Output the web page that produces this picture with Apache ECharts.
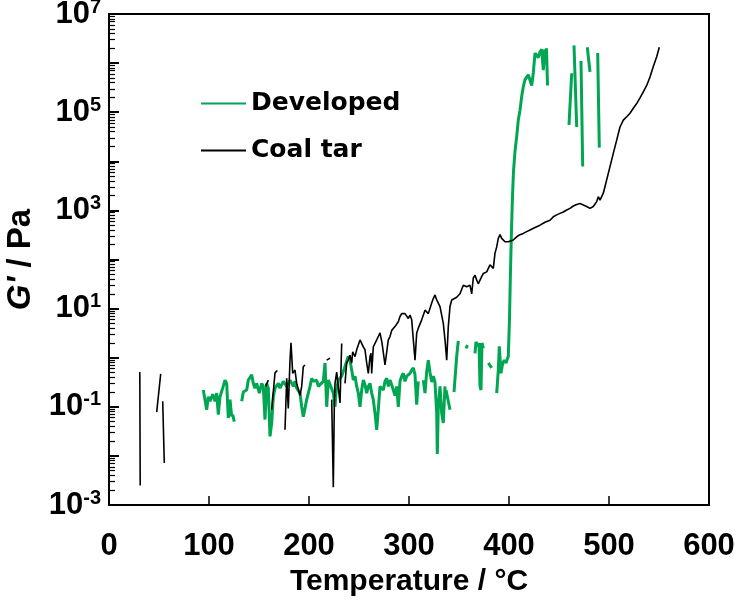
<!DOCTYPE html>
<html><head><meta charset="utf-8">
<script src="https://cdn.jsdelivr.net/npm/echarts@6/dist/echarts.min.js"></script>
<style>html,body{margin:0;padding:0;background:#fff}#c{width:737px;height:601px}</style>
</head><body><div id="c"></div>
<script>
// Temperature (°C) vs G' (Pa); null = gap in the recorded curve
const developed = [
  [94.3,0.22],[97.7,0.087],[99.3,0.16],[101,0.13],[103.7,0.18],[106,0.13],[107.7,0.19],[109.3,0.069],
  [111,0.16],[113.7,0.24],[116,0.35],[117.7,0.30],[119.3,0.059],[121,0.14],[122.7,0.063],[123.2,null],
  [123.7,0.069],[125.3,0.05],[129,null],
  [132.7,0.13],[134.3,0.20],[137.7,0.22],[139.3,0.35],[142.7,0.45],[144.3,0.30],[146,0.24],[147.7,0.30],
  [150.3,0.19],[152.7,0.30],[154.3,0.26],[156,0.055],[157.7,0.30],[159.3,0.24],[161,0.025],[162.7,0.047],
  [164.3,0.16],[166,0.24],[167.7,0.22],[169.3,0.30],[171,0.24],[174.3,0.33],[177.7,0.26],[181,0.35],
  [184.3,0.26],[186,0.33],[187.7,0.24],[191,0.19],[192.7,0.10],[194.3,0.063],[196,0.093],[197.7,0.14],
  [201,0.26],[202.7,0.38],[204.3,0.33],[207.7,0.35],[209.3,0.26],[211,0.24],[214.3,0.33],[216,0.78],
  [217.7,0.10],[219.3,0.35],[221,0.33],[224.3,0.19],[226,0.10],[227,0.19],[229.3,0.35],[232.7,0.42],
  [236,0.66],[239.3,1.07],[241,0.89],[242.7,0.56],[244.3,0.35],[246,0.42],[247.7,0.26],[249.3,0.19],
  [251,0.10],[252.7,0.22],[254.3,0.35],[256,0.28],[257.7,0.19],[259.3,0.26],[261,0.30],[262.7,0.19],
  [264.3,0.14],[266,0.074],[267.7,0.034],[269.3,0.087],[271,0.26],[272.7,0.26],[274.3,0.22],[276,0.33],
  [277.7,0.38],[279.3,0.26],[281,0.35],[282.7,0.28],[284.3,0.22],[286,0.17],[287.7,0.26],[289.3,0.10],
  [291,0.33],[292.7,0.42],[294.3,0.48],[296,0.33],[297.7,0.42],[299.3,0.45],[301,0.48],[302.7,0.56],
  [304.3,0.62],[306,0.45],[307.7,0.11],[309.3,0.33],[312,null],
  [314.3,0.35],[316,0.19],[317.7,0.52],[319.3,0.89],[321,0.50],[322.7,0.32],[324.3,0.42],[326,0.32],
  [327.7,0.074],[328.3,0.011],[329.3,0.10],[331,0.26],[332.7,0.074],[334.3,0.047],[336,0.26],[336.5,null],
  [337,0.22],[341,0.087],[343,null],
  [345,0.20],[347.7,1.07],[349.3,2.2],[353,null],
  [357,1.55],[358.5,1.8],[362,null],
  [366,1.23],[367,2.1],[368.7,1.7],[370,2.0],[371,0.26],[372,0.22],[373,2.0],[374.3,1.55],[377,null],
  [379.3,0.78],[382.7,0.62],[385,null],
  [387.7,0.19],[389.3,0.56],[390.3,1.7],[392,0.48],[393.7,0.78],[395.3,0.89],[397,0.78],[399.3,1.07],
  [400.5,6.3],[401.5,63],[402.5,400],[403.5,2000],[404.5,6300],[406,1.6e4],[407.7,3.2e4],[409.3,6.9e4],
  [411,1.1e5],[412.7,2.1e5],[414.3,3.3e5],[416,4.6e5],[417.7,4.2e5],[419.3,5.8e5],[421,6.2e5],[422.7,3.5e5],
  [424.3,6.3e5],[426,1.6e6],[427.7,1.6e6],[429.3,1.3e6],[431,1.7e6],[432.7,1.9e6],[434.3,7.2e5],[436,1.9e6],
  [437,null],[437.5,2.0e6],[438.5,3.5e5],[450,null],
  [460,5.5e4],[462.7,6.2e5],[464,null],
  [465,2.3e6],[467.7,5.0e4],[470,null],
  [472,1.1e6],[473.7,7800],[476,null],
  [478.3,2.1e6],[481,6.6e5],[485,null],
  [488.7,1.6e6],[490.3,1.9e4]
];
const coalTar = [
  [30.8,0.51],[31.2,0.0025],[40,null],
  [47.7,0.078],[51.7,0.47],[52.7,null],
  [53.7,0.13],[55.3,0.0072],[100,null],
  [156.7,0.26],[159.3,0.35],[161,null],
  [162.7,0.087],[166,0.49],[168.3,0.55],[172,null],
  [176,0.034],[177.7,0.38],[179.3,0.093],[181,0.89],[182,2.0],[183.7,0.48],[186,0.56],[187.7,0.30],
  [191,0.17],[192.7,0.26],[194.3,0.66],[196,0.71],[205,null],
  [217.7,0.89],[221,0.98],[222,null],
  [222.7,0.14],[224.3,0.0023],[225.3,0.10],[226,0.30],[227.7,0.51],[229.3,0.56],[231,0.12],[232.7,1.95],[234,null],
  [236,0.30],[237.7,0.78],[239.3,0.89],[241,1.12],[242.7,0.78],[243.7,1.32],[246,1.05],[247.7,1.45],
  [249.3,1.55],[251,2.3],[252.7,2.45],[254.3,1.66],[256,1.45],[257.7,0.78],[259.3,0.48],[261,1.05],
  [262,1.23],[262.7,0.48],[264.3,1.66],[266,1.95],[267.7,2.3],[269.3,2.7],[271,3.2],[273,2.0],
  [276,0.71],[279.3,2.3],[281,2.7],[282.7,3.6],[284.3,3.4],[286,4.3],[289.3,5.4],[291,6.9],
  [292.7,7.9],[294.3,7.4],[296,7.9],[299.3,6.3],[301,7.4],[302.7,5.9],[306,0.89],[307.7,3.2],
  [309.3,4.0],[312.7,5.9],[316,9.3],[319.3,7.9],[322.7,13],[324.3,16],[326,19],[327.7,15],
  [331,11],[334.3,5.0],[336,2.3],[337.7,0.89],[339.3,4.3],[341,11],[342.7,15],[344.3,16],
  [347.7,17],[351,20],[354.3,30],[356,32],[357.7,28],[359.3,26],[361,30],[362.7,20],
  [364.3,42],[366,48],[367.7,38],[369.3,32],[371,38],[372.7,45],[374.3,52],[377.7,56],
  [381,78],[382.7,83],[384.3,66],[386,135],[387.7,180],[389.3,270],[391,320],[392.7,270],
  [394.3,250],[396,230],[397.7,250],[399.3,230],[401,210],[404.3,250],[407.7,290],[411,320],
  [414.3,340],[417.7,370],[421,400],[426,450],[431,500],[436,575],[441,630],[444.3,740],
  [447.7,810],[451,870],[454.3,930],[457.7,1020],[461,1100],[464.3,1230],[467.7,1320],[471,1380],
  [474.3,1290],[477.7,1200],[481,1100],[484.3,1200],[487.7,1510],[489.3,1900],[491,1620],[492.7,1510],
  [494.3,2240],[497.7,4200],[501,7800],[504.3,1.45e4],[507.7,2.7e4],[511,5.0e4],[514.3,6.9e4],[517.7,8.1e4],
  [521,9.5e4],[524.3,1.2e5],[527.7,1.5e5],[531,1.95e5],[534.3,2.6e5],[537.7,3.5e5],[541,5.2e5],[544.3,8.5e5],
  [547.7,1.35e6],[550.3,2.1e6]
];
const yLabelValues = [1e-3, 1e-1, 1e1, 1e3, 1e5, 1e7];
const yDecadeTicks = [1e-3,1e-2,1e-1,1,1e1,1e2,1e3,1e4,1e5,1e6,1e7];
const yMinorTicks = [];
for (let n = -3; n < 7; n++) for (let m = 2; m <= 9; m++) yMinorTicks.push(m * Math.pow(10, n));

const GREEN = '#00A651';
const chart = echarts.init(document.getElementById('c'), null, {renderer: 'canvas'});
const toData = arr => arr.map(p => [p[0], p[1] === null ? '-' : p[1]]);

chart.setOption({
  animation: false,
  backgroundColor: '#fff',
  grid: {left: 109, right: 28, top: 14, bottom: 96, outerBoundsMode: 'none', containLabel: false,
    show: true, borderColor: '#000', borderWidth: 2, backgroundColor: 'transparent'},
  legend: {
    data: ['Developed', 'Coal tar'],
    orient: 'vertical', left: 195, top: 86, itemWidth: 45, itemHeight: 14, itemGap: 22,
    itemStyle: {opacity: 0},
    textStyle: {fontFamily: 'DejaVu Sans', fontWeight: 'bold', fontSize: 25, color: '#000'}
  },
  xAxis: {
    type: 'value', min: 0, max: 600, interval: 100,
    name: 'Temperature / °C', nameLocation: 'middle', nameGap: 58,
    nameTextStyle: {fontFamily: 'Liberation Sans', fontWeight: 'bold', fontSize: 30, color: '#000'},
    axisLine: {lineStyle: {color: '#000', width: 2}},
    axisTick: {inside: true, length: 9, lineStyle: {color: '#000', width: 1.5}},
    axisLabel: {fontFamily: 'Liberation Sans', fontWeight: 'bold', fontSize: 31, color: '#000', margin: 26},
    splitLine: {show: false}
  },
  yAxis: [{
    type: 'log', logBase: 10, min: 1e-3, max: 1e7,
    name: "{i|G'}{n| / Pa}", nameLocation: 'middle', nameGap: 53,
    nameTextStyle: {rich: {
      i: {fontFamily: 'Liberation Sans', fontWeight: 'bold', fontStyle: 'italic', fontSize: 33, color: '#000'},
      n: {fontFamily: 'Liberation Sans', fontWeight: 'bold', fontSize: 33, color: '#000'}
    }},
    axisLine: {lineStyle: {color: '#000', width: 2}},
    axisTick: {inside: true, length: 10, customValues: yDecadeTicks, lineStyle: {color: '#000', width: 2}},
    axisLabel: {
      customValues: yLabelValues, margin: 8,
      formatter: v => '{b|10}{s|' + Math.round(Math.log10(v)) + '}',
      rich: {
        b: {fontFamily: 'Liberation Sans', fontWeight: 'bold', fontSize: 31, color: '#000', lineHeight: 34},
        s: {fontFamily: 'Liberation Sans', fontWeight: 'bold', fontSize: 20, color: '#000', verticalAlign: 'top', lineHeight: 20}
      }
    },
    splitLine: {show: false}
  }, {
    type: 'log', logBase: 10, min: 1e-3, max: 1e7, position: 'left', offset: 0,
    axisLine: {show: false},
    axisTick: {show: true, inside: true, length: 6, customValues: yMinorTicks, lineStyle: {color: '#000', width: 1.2}},
    axisLabel: {show: false},
    splitLine: {show: false}
  }],
  series: [{
    name: 'Developed', type: 'line', yAxisIndex: 0, data: toData(developed),
    showSymbol: false, symbol: 'none', connectNulls: false,
    lineStyle: {color: GREEN, width: 3}, itemStyle: {color: GREEN}
  }, {
    name: 'Coal tar', type: 'line', yAxisIndex: 0, data: toData(coalTar),
    showSymbol: false, symbol: 'none', connectNulls: false,
    lineStyle: {color: '#000', width: 1.6}, itemStyle: {color: '#000'}
  }]
});
</script></body></html>
